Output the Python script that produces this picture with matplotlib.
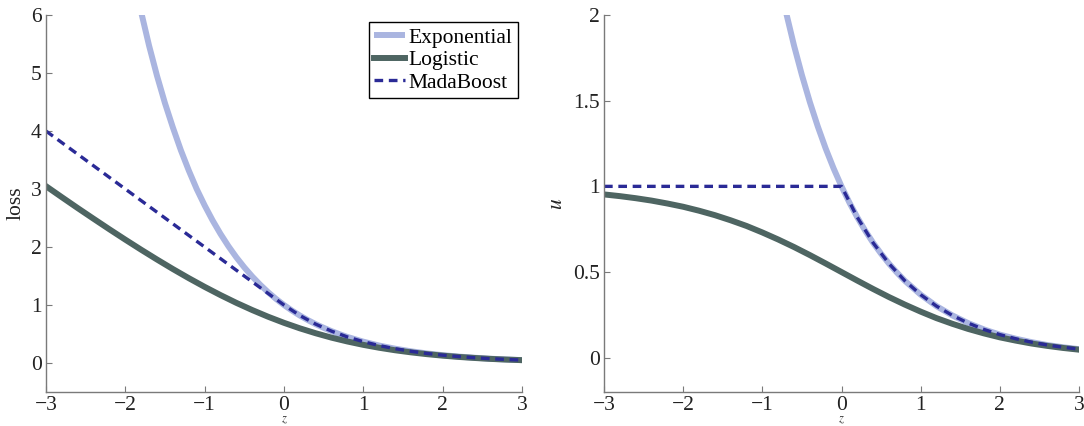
import matplotlib
matplotlib.use('Agg')
import matplotlib.pyplot as plt

plt.rcParams['font.family'] = ['Liberation Serif', 'DejaVu Serif']
plt.rcParams['mathtext.fontset'] = 'stix'

# Werte (Schritt 0.2)
z = [-3.0, -2.8, -2.6, -2.4, -2.2, -2.0, -1.8, -1.6, -1.4, -1.2, -1.0,
     -0.8, -0.6, -0.4, -0.2, 0.0, 0.2, 0.4, 0.6, 0.8, 1.0,
     1.2, 1.4, 1.6, 1.8, 2.0, 2.2, 2.4, 2.6, 2.8, 3.0]

# Exponential (nur sichtbarer Teil, ab z = -1.8, im steilen Bereich feiner)
z_exp = [-1.8, -1.7, -1.6, -1.5, -1.4, -1.3, -1.2, -1.1, -1.0, -0.9, -0.8, -0.7,
         -0.6, -0.5, -0.4, -0.3, -0.2, -0.1, 0.0, 0.1, 0.2, 0.3, 0.4, 0.5,
         0.6, 0.7, 0.8, 1.0, 1.2, 1.4, 1.6, 1.8, 2.0, 2.2, 2.4, 2.6, 2.8, 3.0]
exp_vals = [6.05, 5.47, 4.95, 4.48, 4.06, 3.67, 3.32, 3.00, 2.718, 2.460, 2.226, 2.014,
            1.822, 1.649, 1.492, 1.350, 1.221, 1.105, 1.0, 0.905, 0.819, 0.741, 0.670, 0.607,
            0.549, 0.497, 0.449, 0.368, 0.301, 0.247, 0.202, 0.165, 0.135, 0.111, 0.091,
            0.074, 0.061, 0.050]

logistic_loss = [3.049, 2.859, 2.671, 2.487, 2.305, 2.127, 1.953, 1.784, 1.620, 1.463, 1.313,
                 1.171, 1.037, 0.913, 0.798, 0.693, 0.598, 0.513, 0.437, 0.371, 0.313,
                 0.263, 0.220, 0.184, 0.153, 0.127, 0.105, 0.087, 0.071, 0.059, 0.049]
mada_loss = [4.0, 3.8, 3.6, 3.4, 3.2, 3.0, 2.8, 2.6, 2.4, 2.2, 2.0,
             1.8, 1.6, 1.4, 1.2, 1.0, 0.819, 0.670, 0.549, 0.449, 0.368,
             0.301, 0.247, 0.202, 0.165, 0.135, 0.111, 0.091, 0.074, 0.061, 0.050]

logistic_u = [0.953, 0.943, 0.931, 0.917, 0.900, 0.881, 0.858, 0.832, 0.802, 0.769, 0.731,
              0.690, 0.646, 0.599, 0.550, 0.500, 0.450, 0.401, 0.354, 0.310, 0.269,
              0.231, 0.198, 0.168, 0.142, 0.119, 0.100, 0.083, 0.069, 0.057, 0.047]
mada_u = [1.0, 1.0, 1.0, 1.0, 1.0, 1.0, 1.0, 1.0, 1.0, 1.0, 1.0,
          1.0, 1.0, 1.0, 1.0, 1.0, 0.819, 0.670, 0.549, 0.449, 0.368,
          0.301, 0.247, 0.202, 0.165, 0.135, 0.111, 0.091, 0.074, 0.061, 0.050]

xticks = [-3, -2, -1, 0, 1, 2, 3]
yticks_left = [0, 1, 2, 3, 4, 5, 6]
yticks_right = [0, 0.5, 1, 1.5, 2]
yticklabels_right = ['0', '0.5', '1', '1.5', '2']

c_exp = '#aab5e0'
c_log = '#4e6562'
c_mada = '#2a2a96'
fs = 15.5

fig = plt.figure(figsize=(10.84, 4.26), dpi=100)
ax1 = fig.add_axes([0.0424, 0.0798, 0.4391, 0.885])
ax2 = fig.add_axes([0.5572, 0.0798, 0.4382, 0.885])


def style(ax):
    for s in ['top', 'right']:
        ax.spines[s].set_visible(False)
    for s in ['left', 'bottom']:
        ax.spines[s].set_color('#7a7a7a')
        ax.spines[s].set_linewidth(1.0)
    ax.tick_params(direction='in', length=4, width=0.8, color='#7a7a7a',
                   labelsize=fs, labelcolor='#222222', pad=3)
    ax.set_xlim(-3, 3)
    ax.set_xticks(xticks)
    ax.set_xlabel('$z$', fontsize=9, color='#333333')
    ax.xaxis.set_label_coords(0.5, -0.058)


# links: Verlust
ax1.plot(z_exp, exp_vals, color=c_exp, lw=4.3, label='Exponential', solid_capstyle='butt')
ax1.plot(z, logistic_loss, color=c_log, lw=4.3, label='Logistic')
ax1.plot(z, mada_loss, color=c_mada, lw=2.4, ls=(0, (2.6, 1.7)), label='MadaBoost')
style(ax1)
ax1.set_ylim(-0.5, 6)
ax1.set_yticks(yticks_left)
ax1.set_ylabel('loss', fontsize=fs, color='#222222', labelpad=4)
leg = ax1.legend(loc='upper right', bbox_to_anchor=(0.992, 0.981), borderaxespad=0,
                 fontsize=fs, handlelength=1.4, handletextpad=0.2, labelspacing=0.12,
                 borderpad=0.25, fancybox=False, framealpha=1)
leg.get_frame().set_edgecolor('black')
leg.get_frame().set_linewidth(1.0)

# rechts: Gewichte
ax2.plot(z_exp, exp_vals, color=c_exp, lw=4.3, solid_capstyle='butt')
ax2.plot(z, logistic_u, color=c_log, lw=4.3)
ax2.plot(z, mada_u, color=c_mada, lw=2.4, ls=(0, (2.6, 1.7)))
style(ax2)
ax2.set_ylim(-0.2, 2)
ax2.set_yticks(yticks_right)
ax2.set_yticklabels(yticklabels_right)
ax2.set_ylabel('$u$', fontsize=fs, color='#222222', labelpad=4)

fig.savefig('out.png', dpi=100)
